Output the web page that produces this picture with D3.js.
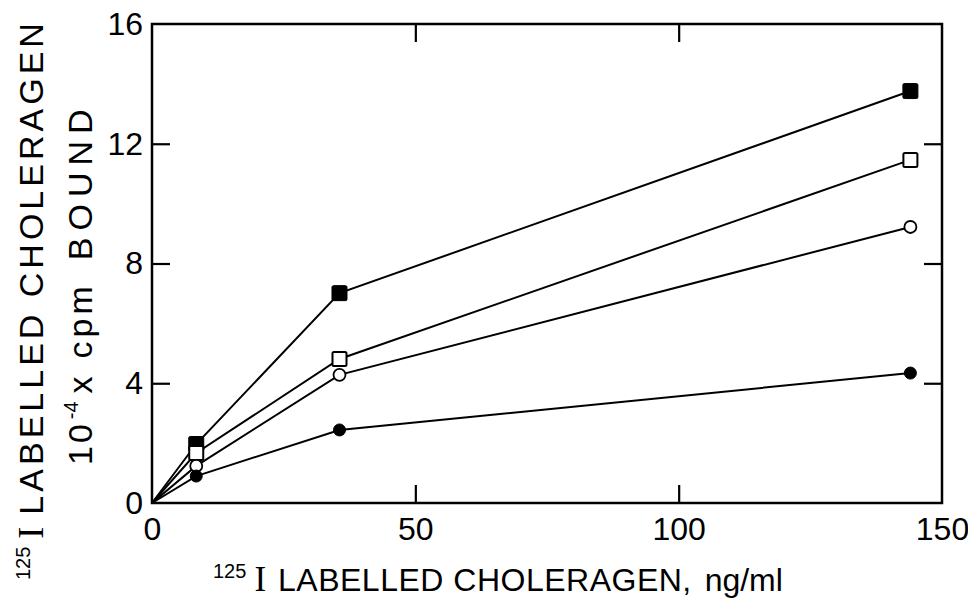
<!DOCTYPE html>
<html>
<head>
<meta charset="utf-8">
<script src="https://cdn.jsdelivr.net/npm/d3@7"></script>
<style>
  html, body { margin: 0; padding: 0; background: #fff; }
  svg { display: block; }
  text { font-family: "Liberation Sans", Arial, sans-serif; fill: #000; }
</style>
</head>
<body>
<svg id="chart" width="968" height="601"></svg>
<script>
// Choleragen concentration (ng/ml); every curve starts at the origin
const concentration = [0, 8.4, 35.6, 144];

// Bound radioactivity, 10^-4 x cpm, one array per curve
const filledSquare = [0, 1.97, 7.01, 13.76];
const openSquare   = [0, 1.67, 4.81, 11.46];
const openCircle   = [0, 1.24, 4.28, 9.22];
const filledCircle = [0, 0.90, 2.44, 4.34];

const xTicks = [0, 50, 100, 150];
const yTicks = [0, 4, 8, 12, 16];

const series = [
  { values: filledSquare, shape: "square", filled: true },
  { values: openSquare,   shape: "square", filled: false },
  { values: openCircle,   shape: "circle", filled: false },
  { values: filledCircle, shape: "circle", filled: true }
];

const svg = d3.select("#chart");
const plotLeft = 152, plotRight = 942, plotTop = 24, plotBottom = 503;

const x = d3.scaleLinear().domain([0, 150]).range([plotLeft, plotRight]);
const y = d3.scaleLinear().domain([0, 16]).range([plotBottom, plotTop]);

// frame
svg.append("rect")
  .attr("x", plotLeft).attr("y", plotTop)
  .attr("width", plotRight - plotLeft).attr("height", plotBottom - plotTop)
  .attr("fill", "none").attr("stroke", "#000").attr("stroke-width", 2.5);

const tickLen = 18;

function styleAxis(g) {
  g.select(".domain").remove();
  g.selectAll(".tick line").attr("stroke", "#000").attr("stroke-width", 2.2);
  g.selectAll(".tick text").attr("font-size", 32).attr("fill", "#000")
    .attr("font-family", "'Liberation Sans', Arial, sans-serif");
}

// bottom axis: inward ticks, labels below
svg.append("g")
  .attr("transform", `translate(0,${plotBottom})`)
  .call(d3.axisBottom(x).tickValues(xTicks).tickSizeInner(-tickLen).tickSizeOuter(0).tickPadding(14))
  .call(styleAxis)
  .call(g => g.selectAll(".tick").filter(d => d === 0 || d === 150).select("line").remove());

// top axis: inward ticks only
svg.append("g")
  .attr("transform", `translate(0,${plotTop})`)
  .call(d3.axisTop(x).tickValues([50, 100]).tickSizeInner(-tickLen).tickSizeOuter(0).tickFormat(""))
  .call(styleAxis);

// left axis: inward ticks, labels to the left
svg.append("g")
  .attr("transform", `translate(${plotLeft},0)`)
  .call(d3.axisLeft(y).tickValues(yTicks).tickSizeInner(-tickLen).tickSizeOuter(0).tickPadding(9))
  .call(styleAxis)
  .call(g => g.selectAll(".tick").filter(d => d === 0 || d === 16).select("line").remove());

// right axis: inward ticks only
svg.append("g")
  .attr("transform", `translate(${plotRight},0)`)
  .call(d3.axisRight(y).tickValues([4, 8, 12]).tickSizeInner(-tickLen).tickSizeOuter(0).tickFormat(""))
  .call(styleAxis);

// curves
const line = d3.line()
  .x((d, i) => x(concentration[i]))
  .y(d => y(d));

const plot = svg.append("g");
series.forEach(s => {
  plot.append("path")
    .datum(s.values)
    .attr("d", line)
    .attr("fill", "none")
    .attr("stroke", "#000")
    .attr("stroke-width", 2);
});

// markers (the origin carries none)
series.forEach(s => {
  const pts = s.values.map((v, i) => ({ cx: x(concentration[i]), cy: y(v) })).filter((p, i) => i > 0);
  if (s.shape === "square") {
    const size = s.filled ? 15 : 14;
    plot.selectAll(null).data(pts).enter().append("rect")
      .attr("x", p => p.cx - size / 2).attr("y", p => p.cy - size / 2)
      .attr("width", size).attr("height", size).attr("rx", 1.5)
      .attr("fill", s.filled ? "#000" : "#fff")
      .attr("stroke", "#000").attr("stroke-width", s.filled ? 1 : 2);
  } else {
    plot.selectAll(null).data(pts).enter().append("circle")
      .attr("cx", p => p.cx).attr("cy", p => p.cy)
      .attr("r", 6)
      .attr("fill", s.filled ? "#000" : "#fff")
      .attr("stroke", "#000").attr("stroke-width", s.filled ? 1 : 1.8);
  }
});

// x-axis title
const xt = svg.append("text")
  .attr("x", 213).attr("y", 591)
  .attr("font-size", 32);
xt.append("tspan").attr("font-size", 20).attr("dy", -13).text("125");
xt.append("tspan").attr("dy", 13).attr("dx", 8)
  .attr("font-family", "'Liberation Serif', serif").attr("font-size", 35).text("I");
xt.append("tspan").attr("dx", 12).attr("letter-spacing", 0.5).text("LABELLED CHOLERAGEN,");
xt.append("tspan").attr("dx", 4).attr("letter-spacing", 0).text(" ng/ml");

// y-axis title, two lines rotated
const yt1 = svg.append("text")
  .attr("transform", "translate(43,580) rotate(-90)")
  .attr("font-size", 34);
yt1.append("tspan").attr("font-size", 20).attr("dy", -13).text("125");
yt1.append("tspan").attr("dy", 13).attr("dx", 8)
  .attr("font-family", "'Liberation Serif', serif").attr("font-size", 36).text("I");
yt1.append("tspan").attr("dx", 12).attr("letter-spacing", 4).text("LABELLED  CHOLERAGEN");

const yt2 = svg.append("text")
  .attr("transform", "translate(92,465) rotate(-90)")
  .attr("font-size", 34);
yt2.append("tspan").attr("letter-spacing", 3).text("10");
yt2.append("tspan").attr("font-size", 20).attr("dy", -14).attr("dx", 2).text("-4");
yt2.append("tspan").attr("dy", 14).attr("dx", 8).text("x");
yt2.append("tspan").attr("dx", 18).attr("letter-spacing", 4).text("cpm");
yt2.append("tspan").attr("dx", 22).attr("letter-spacing", 7).text("BOUND");
</script>
</body>
</html>
